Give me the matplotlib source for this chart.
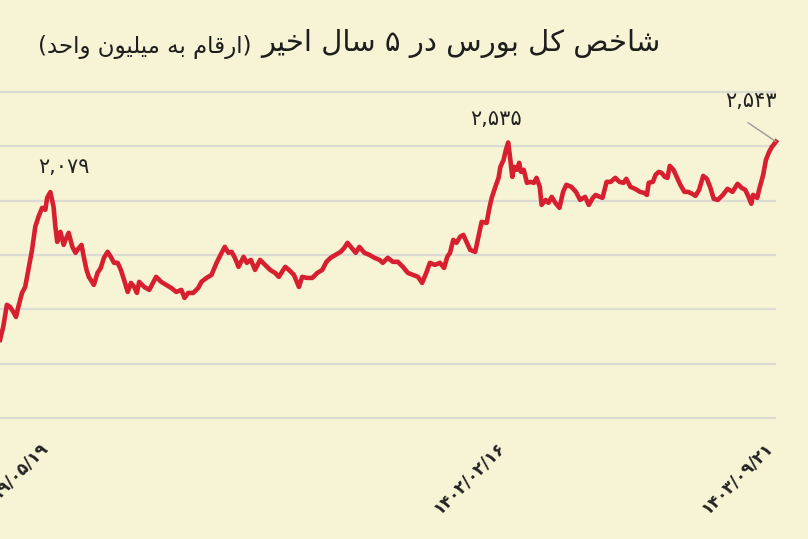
import matplotlib
matplotlib.use("Agg")
import matplotlib.pyplot as plt

# شاخص کل بورس - روز نسبت به ۱۳۹۹/۰۵/۱۹ و مقدار به هزار واحد
days = [-110, -103, -95, -88, -81, -75, -70, -62, -55, -48, -40, -33, -26, -18, -11, -7,
        0, 7, 11, 15, 22, 29, 33, 40, 48, 55, 59, 68, 73, 79, 84, 95, 103, 110, 117, 125,
        132, 139, 147, 154, 161, 169, 176, 183, 189, 194, 205, 216, 224, 231, 242, 253,
        264, 275, 286, 293, 301, 312, 323, 330,
        341, 352, 363, 374, 381, 389, 396, 403, 411, 422, 429, 438, 447, 458, 469, 480,
        491, 499, 513, 521, 532, 543, 550, 561, 572, 583, 594, 603, 612, 623, 634, 642,
        649, 658, 667, 675, 686, 697, 708, 719, 726, 737, 748, 759, 770,
        781, 792, 803, 812, 821, 829, 840, 851, 860, 867, 873, 880, 887, 895, 902, 909,
        917, 928, 935, 942, 953, 959, 964, 972, 979, 983, 990, 995, 1000,
        1004, 1009, 1013, 1019, 1024, 1028, 1034, 1041, 1049, 1056, 1062, 1069, 1073,
        1082, 1088, 1095, 1103, 1112, 1120, 1127, 1138, 1148, 1157, 1168, 1176, 1185,
        1191, 1200, 1206,
        1215, 1224, 1234, 1243, 1252, 1258, 1267, 1277, 1288, 1297, 1303, 1307, 1316,
        1322, 1329, 1335, 1342, 1348, 1353, 1361, 1368, 1376, 1385, 1393, 1402, 1409,
        1417, 1426, 1434, 1441, 1449, 1458, 1469, 1479, 1490, 1501, 1510, 1518, 1525,
        1531, 1535, 1544, 1548, 1557, 1563, 1570, 1576, 1585]

index = [718, 838, 1041, 1022, 976, 930, 1022, 1151, 1206, 1363, 1547, 1759, 1851, 1934, 1916, 2026,
         2079, 1943, 1759, 1621, 1713, 1593, 1639, 1704, 1575, 1520, 1547, 1593, 1483, 1363, 1299, 1225,
         1335, 1381, 1474, 1529, 1483, 1428, 1428, 1363, 1271, 1160, 1243, 1206, 1151, 1253, 1206, 1179,
         1243, 1299, 1253, 1225, 1197, 1160, 1179, 1105, 1151, 1151, 1197, 1253,
         1289, 1317, 1428, 1520, 1575, 1520, 1529, 1474, 1391, 1483, 1428, 1455, 1363, 1455, 1409, 1363,
         1335, 1299, 1391, 1363, 1317, 1206, 1299, 1289, 1289, 1335, 1363, 1437, 1474, 1501, 1529, 1566,
         1612, 1566, 1520, 1575, 1520, 1501, 1474, 1455, 1428, 1474, 1437, 1437, 1391,
         1335, 1317, 1299, 1243, 1335, 1428, 1409, 1428, 1381, 1483, 1520, 1639, 1612, 1667, 1685, 1621,
         1547, 1529, 1667, 1805, 1796, 1934, 2026, 2127, 2210, 2311, 2376, 2468, 2535,
         2403, 2219, 2311, 2284, 2348, 2265, 2284, 2164, 2173, 2164, 2210, 2127, 1961,
         2007, 1980, 2035, 1980, 1934, 2081, 2146, 2127, 2081, 2007, 2035, 1961, 2026,
         2053, 2035, 2026,
         2173, 2173, 2210, 2173, 2164, 2201, 2127, 2109, 2081, 2072, 2053, 2164, 2173,
         2238, 2265, 2256, 2219, 2210, 2320, 2284, 2219, 2146, 2081, 2081, 2063, 2044,
         2099, 2228, 2201, 2127, 2017, 2007, 2053, 2109, 2081, 2155, 2118, 2099, 2035,
         1971, 2053, 2026, 2099, 2238, 2376, 2449, 2495, 2543]

tick_days = [0, 1000, 1585]
tick_labels = ["۱۳۹۹/۰۵/۱۹", "۱۴۰۲/۰۲/۱۶", "۱۴۰۳/۰۹/۲۱"]
grid_values = [0, 500, 1000, 1500, 2000, 2500, 3000]

peak_days = [0, 1000, 1585]
peak_values = [2079, 2535, 2543]
peak_labels = ["۲,۰۷۹", "۲,۵۳۵", "۲,۵۴۳"]

title = "شاخص کل بورس در ۵ سال اخیر"
subtitle = "(ارقام به میلیون واحد)"

# شکل‌دهی ساده حروف فارسی (matplotlib خودش این کار را نمی‌کند)
FORMS = {
    'ا': ('\uFE8D', '\uFE8E', None, None),
    'د': ('\uFEA9', '\uFEAA', None, None),
    'ر': ('\uFEAD', '\uFEAE', None, None),
    'و': ('\uFEED', '\uFEEE', None, None),
    'ب': ('\uFE8F', '\uFE90', '\uFE91', '\uFE92'),
    'ح': ('\uFEA1', '\uFEA2', '\uFEA3', '\uFEA4'),
    'خ': ('\uFEA5', '\uFEA6', '\uFEA7', '\uFEA8'),
    'س': ('\uFEB1', '\uFEB2', '\uFEB3', '\uFEB4'),
    'ش': ('\uFEB5', '\uFEB6', '\uFEB7', '\uFEB8'),
    'ص': ('\uFEB9', '\uFEBA', '\uFEBB', '\uFEBC'),
    'ق': ('\uFED5', '\uFED6', '\uFED7', '\uFED8'),
    'ک': ('\uFB8E', '\uFB8F', '\uFB90', '\uFB91'),
    'ل': ('\uFEDD', '\uFEDE', '\uFEDF', '\uFEE0'),
    'م': ('\uFEE1', '\uFEE2', '\uFEE3', '\uFEE4'),
    'ن': ('\uFEE5', '\uFEE6', '\uFEE7', '\uFEE8'),
    'ه': ('\uFEE9', '\uFEEA', '\uFEEB', '\uFEEC'),
    'ی': ('\uFBFC', '\uFBFD', '\uFBFE', '\uFBFF'),
}


def joins_forward(ch):
    return ch in FORMS and FORMS[ch][2] is not None


def shape(text):
    out = []
    for i, ch in enumerate(text):
        if ch not in FORMS:
            out.append(ch)
            continue
        prev = text[i - 1] if i > 0 else ''
        nxt = text[i + 1] if i + 1 < len(text) else ''
        a = joins_forward(prev)
        b = joins_forward(ch) and nxt in FORMS
        iso, fin, ini, med = FORMS[ch]
        if a and b:
            out.append(med)
        elif a:
            out.append(fin)
        elif b:
            out.append(ini)
        else:
            out.append(iso)
    vis = ''.join(reversed(out))
    return vis.translate(str.maketrans('()', ')('))


fig = plt.figure(figsize=(8.08, 5.39), dpi=100)
bg = '#f6f4d4'
fig.patch.set_facecolor(bg)

# محور: y=0 روی پیکسل ۴۱۸ و y=3000 روی پیکسل ۹۲
ax = fig.add_axes([0, (539 - 420) / 539, 776 / 808, (420 - 90) / 539])
ax.set_facecolor(bg)
ax.set_xlim(-110, 1585)
ax.set_ylim(-3000 * 2 / 326, 3000 + 3000 * 2 / 326)

for g in grid_values:
    ax.axhline(g, color='#dddcd4', linewidth=1.6, zorder=1)

ax.plot(days, index, color='#d71f2f', linewidth=3.3, solid_joinstyle='round', zorder=3, clip_on=False)

for s in ax.spines.values():
    s.set_visible(False)
ax.set_xticks([])
ax.set_yticks([])

# برچسب تاریخ‌ها
for d, lab in zip(tick_days, tick_labels):
    ax.annotate(lab, (d, 0), xytext=(-12, -20), textcoords='offset pixels',
                rotation=45, rotation_mode='anchor', ha='right', va='top',
                fontsize=12, fontweight='bold', color='#222222', annotation_clip=False)

# مقادیر قله‌ها
offsets = [(14, 15), (-12, 14), (-25, 31)]
for d, v, lab, off in zip(peak_days, peak_values, peak_labels, offsets):
    ax.annotate(lab, (d, v), xytext=off, textcoords='offset pixels',
                ha='center', va='bottom', fontsize=15, color='#222222')
ax.annotate('', (peak_days[2], peak_values[2]), xytext=(-28, 19), textcoords='offset pixels',
            arrowprops=dict(arrowstyle='-', color='#9a9a9a', lw=1, shrinkA=0, shrinkB=0))

fig.text(660 / 808, 1 - 43 / 539, shape(title), ha='right', va='center', fontsize=21,
         color='#1e1e1e')
fig.text(251 / 808, 1 - 47 / 539, shape(subtitle), ha='right', va='center', fontsize=16.5,
         color='#1e1e1e')

fig.savefig('out.png', dpi=100, facecolor=bg)
